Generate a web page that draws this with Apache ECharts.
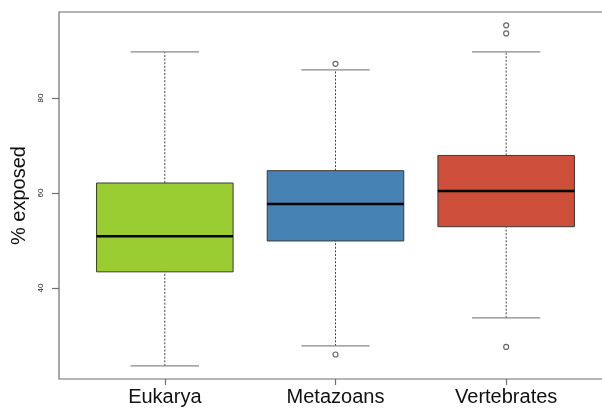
<!DOCTYPE html>
<html>
<head>
<meta charset="utf-8">
<script src="https://cdn.jsdelivr.net/npm/echarts@6/dist/echarts.min.js"></script>
<style>
  html, body { margin: 0; padding: 0; background: #fff; }
  #chart { width: 602px; height: 408px; }
</style>
</head>
<body>
<div id="chart"></div>
<script>
// Groups along the x axis
const categories = ['Eukarya', 'Metazoans', 'Vertebrates'];
// Five-number summaries per group (% exposed)
const lowerWhisker = [23.6, 27.8, 33.7];
const q1 = [43.4, 49.9, 52.9];
const median = [50.9, 57.7, 60.4];
const q3 = [62.1, 64.7, 67.9];
const upperWhisker = [89.7, 85.9, 89.7];
// Outlying points: [group position, value]
const outliers = [[2, 87.2], [2, 26.0], [3, 95.3], [3, 93.6], [3, 27.6]];
const boxColors = ['#9ACD32', '#4682B4', '#CD4F39'];
const yTicks = [40, 60, 80];

const BOX_W = 0.8;   // box width in x-axis units
const CAP_W = 0.4;   // whisker cap width in x-axis units

const boxData = categories.map((c, i) => [i + 1, lowerWhisker[i], q1[i], median[i], q3[i], upperWhisker[i]]);

function renderBox(params, api) {
  const x = api.value(0);
  const lo = api.value(1), a = api.value(2), m = api.value(3), b = api.value(4), hi = api.value(5);
  const pLo = api.coord([x, lo]), pA = api.coord([x, a]), pM = api.coord([x, m]);
  const pB = api.coord([x, b]), pHi = api.coord([x, hi]);
  const halfBox = (api.coord([x + BOX_W / 2, m])[0] - api.coord([x - BOX_W / 2, m])[0]) / 2;
  const halfCap = (api.coord([x + CAP_W / 2, m])[0] - api.coord([x - CAP_W / 2, m])[0]) / 2;
  const cx = pM[0];
  const dashed = { stroke: '#444', lineWidth: 1, lineDash: [2, 1.6] };
  const cap = { stroke: '#888', lineWidth: 1.2 };
  return {
    type: 'group',
    children: [
      { type: 'line', shape: { x1: cx, y1: pB[1], x2: cx, y2: pHi[1] }, style: dashed },
      { type: 'line', shape: { x1: cx, y1: pLo[1], x2: cx, y2: pA[1] }, style: dashed },
      { type: 'line', shape: { x1: cx - halfCap, y1: pHi[1], x2: cx + halfCap, y2: pHi[1] }, style: cap },
      { type: 'line', shape: { x1: cx - halfCap, y1: pLo[1], x2: cx + halfCap, y2: pLo[1] }, style: cap },
      { type: 'rect', shape: { x: cx - halfBox, y: pB[1], width: 2 * halfBox, height: pA[1] - pB[1] },
        style: { fill: boxColors[params.dataIndex], stroke: '#3a3a3a', lineWidth: 1 } },
      { type: 'line', shape: { x1: cx - halfBox, y1: pM[1], x2: cx + halfBox, y2: pM[1] },
        style: { stroke: '#000', lineWidth: 2.5 } }
    ]
  };
}

const chart = echarts.init(document.getElementById('chart'), null, { renderer: 'canvas' });
chart.setOption({
  animation: false,
  backgroundColor: '#fff',
  // plot frame runs past the right edge of the canvas
  grid: {
    left: 59, right: -10, top: 12, bottom: 29,
    outerBoundsMode: 'none', containLabel: false,
    show: true, borderColor: '#6e6e6e', borderWidth: 1.2
  },
  xAxis: {
    type: 'value', min: 0.38, max: 3.62,
    splitLine: { show: false },
    axisLine: { show: false },
    axisTick: { show: true, length: 6, customValues: [1, 2, 3], lineStyle: { color: '#6e6e6e', width: 1.2 } },
    axisLabel: {
      customValues: [1, 2, 3],
      formatter: v => categories[Math.round(v) - 1] || '',
      fontFamily: 'Liberation Sans', fontSize: 20, color: '#111', margin: 8
    }
  },
  yAxis: {
    type: 'value', min: 20.84, max: 98.1,
    name: '% exposed', nameLocation: 'middle', nameGap: 27, nameRotate: 90,
    nameTextStyle: { fontFamily: 'Liberation Sans', fontSize: 20, color: '#111' },
    splitLine: { show: false },
    axisLine: { show: false },
    axisTick: { show: true, length: 7, customValues: yTicks, lineStyle: { color: '#6e6e6e', width: 1.2 } },
    axisLabel: {
      customValues: yTicks, rotate: 90,
      fontFamily: 'Liberation Sans', fontSize: 8, color: '#222', margin: 14
    }
  },
  series: [
    { type: 'custom', renderItem: renderBox, data: boxData, encode: { x: 0, y: [1, 2, 3, 4, 5] }, clip: false },
    {
      type: 'scatter', data: outliers, symbol: 'circle', symbolSize: 5,
      itemStyle: { color: '#fff', borderColor: '#444', borderWidth: 1.2 }
    }
  ]
});
</script>
</body>
</html>
